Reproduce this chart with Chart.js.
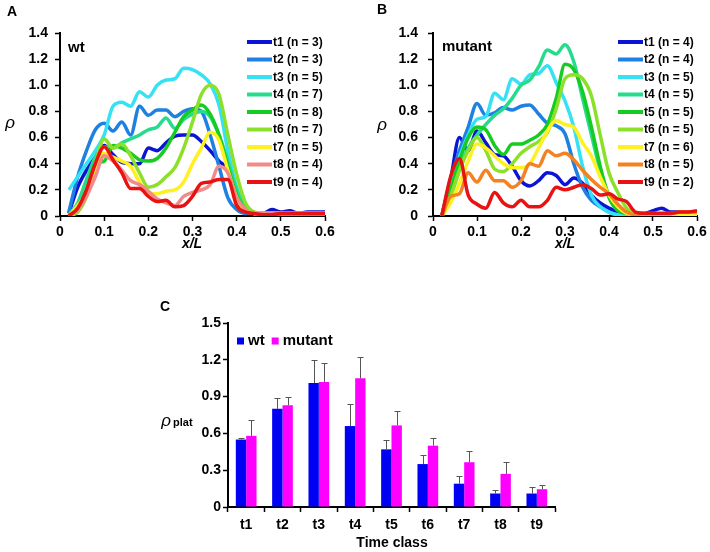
<!DOCTYPE html>
<html><head><meta charset="utf-8">
<script src="https://cdn.jsdelivr.net/npm/chart.js@4.4.0/dist/chart.umd.min.js"></script>
<style>
html,body{margin:0;padding:0;background:#fff;}
#fig{position:relative;width:710px;height:552px;overflow:hidden;background:#fff;}
canvas{position:absolute;}
</style></head><body>
<div id="fig">
<canvas id="cA" width="355" height="260" style="left:0;top:0"></canvas>
<canvas id="cB" width="355" height="260" style="left:355px;top:0"></canvas>
<canvas id="cC" width="430" height="267" style="left:140px;top:285px"></canvas>
</div>
<script>
// ---------- DATA ----------
const xPos = [0.02,0.04,0.06,0.08,0.10,0.12,0.14,0.16,0.18,0.20,0.22,0.24,0.26,0.28,0.30,0.32,0.34,0.36,0.38,0.40,0.42,0.44,0.46,0.48,0.50,0.52,0.54,0.56,0.58,0.60];
const timeClasses = ['t1','t2','t3','t4','t5','t6','t7','t8','t9'];
const nWt  = [3,3,5,7,8,7,5,4,4];
const nMut = [4,4,5,5,5,5,6,5,2];

// Panel A (wt) density profiles
const wtT1 = [0.02,0.22,0.35,0.45,0.54,0.47,0.41,0.40,0.40,0.52,0.50,0.56,0.61,0.62,0.62,0.57,0.50,0.42,0.35,0.10,0.03,0.02,0.02,0.05,0.03,0.04,0.02,0.03,0.03,0.03];
const wtT2 = [0.03,0.30,0.50,0.66,0.71,0.65,0.72,0.62,0.84,0.77,0.81,0.81,0.76,0.80,0.82,0.80,0.62,0.38,0.14,0.05,0.02,0.02,0.02,0.02,0.02,0.02,0.02,0.02,0.02,0.02];
const wtT3 = [0.20,0.30,0.40,0.50,0.62,0.84,0.87,0.84,0.95,0.91,1.00,1.04,1.05,1.13,1.12,1.08,1.01,0.85,0.50,0.22,0.06,0.02,0.02,0.02,0.02,0.02,0.02,0.02,0.02,0.02];
const wtT4 = [0.01,0.10,0.28,0.45,0.53,0.52,0.56,0.59,0.62,0.66,0.68,0.75,0.67,0.74,0.78,0.80,0.76,0.62,0.42,0.20,0.07,0.02,0.02,0.02,0.02,0.02,0.02,0.02,0.02,0.02];
const wtT5 = [0.00,0.05,0.20,0.40,0.42,0.54,0.52,0.48,0.43,0.42,0.44,0.52,0.64,0.76,0.81,0.85,0.78,0.62,0.38,0.16,0.05,0.02,0.02,0.02,0.02,0.02,0.02,0.02,0.02,0.02];
const wtT6 = [0.00,0.03,0.15,0.40,0.59,0.52,0.55,0.46,0.33,0.22,0.24,0.30,0.37,0.52,0.72,0.93,1.00,0.93,0.62,0.32,0.10,0.03,0.02,0.02,0.02,0.02,0.02,0.02,0.02,0.02];
const wtT7 = [0.00,0.08,0.18,0.38,0.48,0.45,0.42,0.38,0.26,0.17,0.17,0.19,0.20,0.26,0.40,0.52,0.64,0.58,0.35,0.14,0.04,0.02,0.02,0.02,0.02,0.02,0.02,0.02,0.02,0.02];
const wtT8 = [0.00,0.05,0.15,0.30,0.46,0.42,0.35,0.27,0.24,0.19,0.13,0.10,0.08,0.15,0.18,0.20,0.24,0.38,0.33,0.14,0.05,0.02,0.02,0.02,0.02,0.02,0.02,0.02,0.02,0.02];
const wtT9 = [0.00,0.06,0.20,0.40,0.53,0.43,0.33,0.21,0.21,0.15,0.11,0.12,0.07,0.08,0.15,0.25,0.26,0.28,0.28,0.08,0.03,0.02,0.01,0.01,0.02,0.02,0.02,0.02,0.02,0.02];

// Panel B (mutant) density profiles
const mutT1 = [0.00,0.28,0.60,0.50,0.65,0.56,0.47,0.46,0.38,0.27,0.23,0.27,0.33,0.31,0.24,0.29,0.25,0.16,0.10,0.06,0.03,0.02,0.02,0.02,0.04,0.06,0.03,0.03,0.02,0.03];
const mutT2 = [0.00,0.28,0.50,0.68,0.86,0.77,0.79,0.83,0.81,0.84,0.85,0.78,0.71,0.69,0.63,0.40,0.22,0.12,0.07,0.03,0.01,0.01,0.02,0.02,0.02,0.02,0.02,0.02,0.02,0.02];
const mutT3 = [0.00,0.25,0.45,0.62,0.74,0.76,0.94,0.89,1.05,1.01,1.08,1.09,1.15,1.02,0.88,0.68,0.38,0.16,0.07,0.03,0.01,0.01,0.01,0.01,0.01,0.01,0.01,0.01,0.01,0.01];
const mutT4 = [0.00,0.15,0.35,0.52,0.62,0.70,0.77,0.82,0.90,1.00,1.04,1.14,1.27,1.24,1.31,1.18,0.90,0.62,0.35,0.16,0.06,0.02,0.01,0.01,0.01,0.01,0.01,0.01,0.01,0.01];
const mutT5 = [0.00,0.20,0.42,0.60,0.68,0.66,0.54,0.47,0.55,0.55,0.58,0.62,0.70,0.90,1.16,1.12,0.95,0.68,0.38,0.14,0.04,0.02,0.01,0.01,0.01,0.01,0.01,0.01,0.01,0.01];
const mutT6 = [0.00,0.15,0.35,0.50,0.60,0.50,0.36,0.34,0.40,0.48,0.53,0.57,0.64,0.82,1.05,1.08,1.05,0.92,0.62,0.33,0.18,0.06,0.02,0.01,0.01,0.01,0.01,0.01,0.01,0.01];
const mutT7 = [0.00,0.10,0.25,0.42,0.55,0.52,0.46,0.40,0.37,0.37,0.40,0.52,0.65,0.73,0.70,0.68,0.56,0.46,0.30,0.16,0.07,0.02,0.01,0.01,0.01,0.01,0.01,0.01,0.01,0.01];
const mutT8 = [0.00,0.15,0.17,0.33,0.26,0.35,0.27,0.27,0.22,0.27,0.40,0.38,0.50,0.46,0.48,0.43,0.35,0.28,0.22,0.17,0.09,0.03,0.01,0.02,0.02,0.02,0.02,0.03,0.03,0.03];
const mutT9 = [0.00,0.30,0.44,0.16,0.09,0.06,0.18,0.10,0.07,0.12,0.07,0.07,0.12,0.22,0.20,0.22,0.24,0.21,0.16,0.17,0.13,0.11,0.03,0.02,0.02,0.02,0.02,0.03,0.03,0.04];

// Panel C (plateau density, mean and upper error)
const platWt     = [0.55,0.80,1.01,0.66,0.47,0.35,0.19,0.11,0.11];
const platWtErr  = [0.015,0.09,0.185,0.18,0.075,0.07,0.065,0.025,0.055];
const platMut    = [0.58,0.83,1.02,1.05,0.665,0.50,0.365,0.27,0.145];
const platMutErr = [0.13,0.07,0.155,0.175,0.115,0.06,0.095,0.095,0.035];

// ---------- STYLE ----------
const FAM = "'Liberation Sans', Arial, sans-serif";
const colWt  = ['#0A14D2','#1E80E2','#35E2F5','#25DC8C','#16CC22','#8CE02A','#FFF020','#F28A8A','#E81212'];
const colMut = ['#0A14D2','#1E80E2','#35E2F5','#25DC8C','#16CC22','#8CE02A','#FFF020','#F28222','#E81212'];

const textPlugin = {
  id: 'texts',
  afterDraw(chart, args, o) {
    const ctx = chart.ctx;
    (o.items || []).forEach(it => {
      ctx.save();
      ctx.font = it.font; ctx.fillStyle = '#000';
      ctx.textAlign = it.align || 'left'; ctx.textBaseline = 'middle';
      ctx.fillText(it.text, it.x, it.y);
      ctx.restore();
    });
  }
};
const lineLegend = {
  id: 'lineLegend',
  afterDraw(chart, args, o) {
    const ctx = chart.ctx;
    chart.data.datasets.forEach((ds, i) => {
      const y = o.y + i * o.dy;
      ctx.save();
      ctx.strokeStyle = ds.borderColor; ctx.lineWidth = o.lw; ctx.lineCap = 'butt';
      ctx.beginPath(); ctx.moveTo(o.x, y); ctx.lineTo(o.x + o.len, y); ctx.stroke();
      ctx.font = o.font; ctx.fillStyle = '#000'; ctx.textBaseline = 'middle'; ctx.textAlign = 'left';
      ctx.fillText(ds.label, o.x + o.len + 1, y + 0.5);
      ctx.restore();
    });
  }
};
const boxLegend = {
  id: 'boxLegend',
  afterDraw(chart, args, o) {
    const ctx = chart.ctx;
    let x = o.x;
    chart.data.datasets.forEach(ds => {
      ctx.save();
      ctx.fillStyle = ds.backgroundColor;
      ctx.fillRect(x, o.y - o.size / 2, o.size, o.size);
      x += o.size + 4;
      ctx.font = o.font; ctx.fillStyle = '#000'; ctx.textBaseline = 'middle'; ctx.textAlign = 'left';
      ctx.fillText(ds.label, x, o.y);
      x += ctx.measureText(ds.label).width + 7;
      ctx.restore();
    });
  }
};
const errorBars = {
  id: 'errorBars',
  afterDatasetsDraw(chart) {
    const ctx = chart.ctx, ys = chart.scales.y;
    chart.data.datasets.forEach((ds, di) => {
      const meta = chart.getDatasetMeta(di);
      meta.data.forEach((bar, i) => {
        const xx = Math.round(bar.x) + 0.5;
        const base = ys.getPixelForValue(ds.data[i]);
        const top = Math.round(ys.getPixelForValue(ds.data[i] + ds.errors[i])) + 0.5;
        ctx.save(); ctx.strokeStyle = '#555'; ctx.lineWidth = 1;
        ctx.beginPath(); ctx.moveTo(xx, base); ctx.lineTo(xx, top);
        ctx.moveTo(xx - 3, top); ctx.lineTo(xx + 3, top); ctx.stroke();
        ctx.restore();
      });
    });
  }
};

function tickFont(sz){ return { family: FAM, size: sz, weight: 'bold' }; }
function axisGrid(){ return { drawOnChartArea: false, drawTicks: true, tickLength: 5, tickColor: '#000', tickWidth: 1.5 }; }

function lineChart(id, series, counts, colors, yW, padR, yPad, legendX, texts) {
  const datasets = series.map((s, i) => ({
    label: timeClasses[i] + ' (n = ' + counts[i] + ')',
    data: xPos.map((x, j) => ({ x: x, y: s[j] })),
    borderColor: colors[i], backgroundColor: colors[i],
    borderWidth: 3.5, pointRadius: 0, fill: false,
    cubicInterpolationMode: 'monotone', order: series.length - i
  }));
  return new Chart(document.getElementById(id), {
    type: 'line',
    data: { datasets },
    options: {
      responsive: false, animation: false, devicePixelRatio: 1,
      layout: { padding: { left: 0, right: padR, top: 33, bottom: 0 } },
      plugins: { legend: { display: false }, tooltip: { enabled: false },
        texts: { items: texts },
        lineLegend: { x: legendX, len: 25, y: 42, dy: 17.5, lw: 4, font: 'bold 12px ' + FAM } },
      scales: {
        x: { type: 'linear', min: 0, max: 0.6,
             ticks: { stepSize: 0.1, font: tickFont(14), color: '#000', padding: 3, maxRotation: 0 },
             grid: axisGrid(), border: { color: '#000', width: 2 },
             afterFit: s => { s.height = 44; } },
        y: { type: 'linear', min: 0, max: 1.4,
             ticks: { stepSize: 0.2, font: tickFont(14), color: '#000', padding: yPad },
             grid: axisGrid(), border: { color: '#000', width: 2 },
             afterFit: s => { s.width = yW; } }
      }
    },
    plugins: [textPlugin, lineLegend]
  });
}

lineChart('cA', [wtT1,wtT2,wtT3,wtT4,wtT5,wtT6,wtT7,wtT8,wtT9], nWt, colWt, 60, 30, 7, 247, [
  { text: 'A', x: 7, y: 12, font: 'bold 14px ' + FAM },
  { text: 'wt', x: 68, y: 48, font: 'bold 15px ' + FAM },
  { text: 'ρ', x: 10, y: 123, font: 'italic 17px ' + FAM, align: 'center' },
  { text: 'x/L', x: 192, y: 244, font: 'italic bold 14px ' + FAM, align: 'center' }
]);
lineChart('cB', [mutT1,mutT2,mutT3,mutT4,mutT5,mutT6,mutT7,mutT8,mutT9], nMut, colMut, 78, 13, 10, 263, [
  { text: 'B', x: 22, y: 10, font: 'bold 14px ' + FAM },
  { text: 'mutant', x: 87, y: 47, font: 'bold 15px ' + FAM },
  { text: 'ρ', x: 27, y: 125, font: 'italic 17px ' + FAM, align: 'center' },
  { text: 'x/L', x: 210, y: 244, font: 'italic bold 14px ' + FAM, align: 'center' }
]);

new Chart(document.getElementById('cC'), {
  type: 'bar',
  data: {
    labels: timeClasses,
    datasets: [
      { label: 'wt', data: platWt, errors: platWtErr, backgroundColor: '#0000F2', borderWidth: 0,
        barPercentage: 1.0, categoryPercentage: 0.57 },
      { label: 'mutant', data: platMut, errors: platMutErr, backgroundColor: '#FF00FF', borderWidth: 0,
        barPercentage: 1.0, categoryPercentage: 0.57 }
    ]
  },
  options: {
    responsive: false, animation: false, devicePixelRatio: 1,
    layout: { padding: { left: 0, right: 15, top: 38, bottom: 0 } },
    plugins: { legend: { display: false }, tooltip: { enabled: false },
      boxLegend: { x: 97, y: 56, size: 7, font: 'bold 15px ' + FAM },
      texts: { items: [
        { text: 'C', x: 20, y: 22, font: 'bold 14px ' + FAM },
        { text: 'ρ', x: 26, y: 136, font: 'italic 17px ' + FAM, align: 'center' },
        { text: 'plat', x: 33, y: 138, font: 'bold 11px ' + FAM },
        { text: 'Time class', x: 252, y: 258, font: 'bold 14px ' + FAM, align: 'center' }
      ] } },
    scales: {
      x: { type: 'category', offset: true,
           ticks: { font: tickFont(14), color: '#000', padding: 5 },
           grid: Object.assign(axisGrid(), { offset: true }), border: { color: '#000', width: 2 },
           afterFit: s => { s.height = 45; } },
      y: { min: 0, max: 1.5,
           ticks: { stepSize: 0.3, font: tickFont(14), color: '#000', padding: 2 },
           grid: axisGrid(), border: { color: '#000', width: 2 },
           afterFit: s => { s.width = 88; } }
    }
  },
  plugins: [textPlugin, boxLegend, errorBars]
});
</script>
</body></html>
